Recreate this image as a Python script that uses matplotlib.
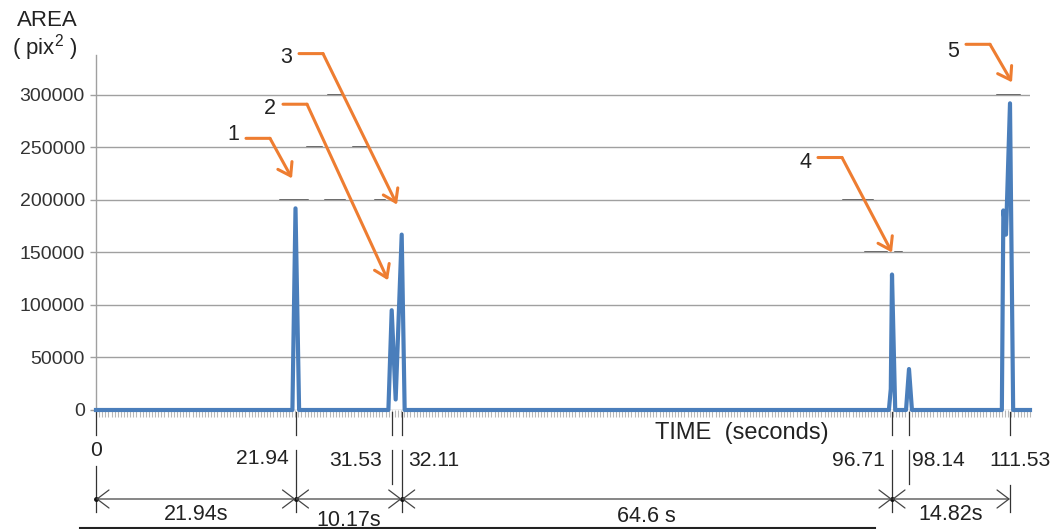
import numpy as np
import matplotlib
matplotlib.use("Agg")
import matplotlib.pyplot as plt
import matplotlib.transforms as mtransforms
from matplotlib.lines import Line2D

# blob area over time
time_s = [0, 21.6, 21.94, 22.3, 31.2, 31.53, 31.76, 32.11, 32.5,
          96.3, 96.55, 96.71, 96.98, 97.89, 98.14, 98.53,
          110.45, 110.65, 111.0, 111.53, 111.92, 114.0]
area_px2 = [0, 0, 192000, 0, 0, 95000, 10000, 167000, 0,
            0, 20000, 129000, 0, 0, 39000, 0,
            0, 190000, 167000, 292000, 0, 0]

ytick_values = [0, 50000, 100000, 150000, 200000, 250000, 300000]

event_times = [0, 21.94, 31.53, 32.11, 96.71, 98.14, 111.53]
event_labels = ["0", "21.94", "31.53", "32.11", "96.71", "98.14", "111.53"]

interval_edges = [0, 21.94, 32.11, 96.71, 111.53]
interval_labels = ["21.94s", "10.17s", "64.6 s", "14.82s"]

callout_times = [21.94, 31.53, 32.11, 96.71, 111.53]
callout_labels = ["1", "2", "3", "4", "5"]

W, H = 1057, 529
BLUE = "#4a7ebb"
ORANGE = "#ee7d31"
GRID = "#a0a0a0"
TXT = "#222222"

plt.rcParams["font.family"] = ["Liberation Sans", "DejaVu Sans"]
plt.rcParams["mathtext.fontset"] = "custom"
plt.rcParams["mathtext.rm"] = "Liberation Sans"

# the original is an Excel category axis with uneven sampling,
# so the time axis is stretched piecewise to match it
knot_t = np.array([-1000, 0, 21.94, 31.53, 32.11, 96.71, 98.14, 111.53, 114.0, 1000])
knot_px = np.array([-8994, 96, 295.5, 391.7, 401.7, 892, 909, 1010, 1030, 8200])


def fwd(t):
    return np.interp(t, knot_t, knot_px)


def inv(p):
    return np.interp(p, knot_px, knot_t)


fig = plt.figure(figsize=(W / 100, H / 100), dpi=100)
ax = fig.add_axes([96 / W, 1 - 410 / H, (1030 - 96) / W, (410 - 55) / H])
ax.set_xscale("function", functions=(fwd, inv))
ax.set_xlim(0, 114.0)
ax.set_ylim(0, 338000)

# top-left pixel coordinates, like the reference image
pix = mtransforms.Affine2D().scale(1 / W, -1 / H).translate(0, 1) + fig.transFigure
tx = mtransforms.blended_transform_factory(ax.transData, pix)

# dense sample ticks under the axis (one per frame)
ax2 = ax.twiny()
ax2.set_xlim(0, 300)
ax2.xaxis.set_ticks_position("bottom")
ax2.set_xticks(np.arange(0, 301))
ax2.tick_params(axis="x", length=5, width=0.8, color="#b8b8b8",
                labelbottom=False, labeltop=False, top=False)
for s in ax2.spines.values():
    s.set_visible(False)
ax2.set_zorder(1)
ax.set_zorder(2)
ax.patch.set_visible(False)

ax.plot(time_s, area_px2, color=BLUE, lw=3, clip_on=False, zorder=3)

ax.set_yticks(ytick_values)
ax.set_yticklabels([str(v) for v in ytick_values])
ax.yaxis.grid(True, color=GRID, lw=1.0)
ax.set_axisbelow(True)
ax.set_xticks([])
ax.tick_params(axis="x", bottom=False, labelbottom=False)
ax.tick_params(axis="y", labelsize=14, labelcolor="#333333", color=GRID,
               length=4, width=1, pad=4)
for side in ["top", "right", "bottom"]:
    ax.spines[side].set_visible(False)
ax.spines["left"].set_color(GRID)
ax.spines["left"].set_linewidth(1)

# dark marks left on some gridlines in the original
dark_dashes = [(280, 308, 200), (325, 345, 200), (375, 385, 200),
               (307, 322, 147), (353, 367, 147), (328, 343, 95),
               (843, 873, 200), (865, 887, 252), (895, 902, 252), (997, 1020, 95)]
for x0, x1, y in dark_dashes:
    fig.add_artist(Line2D([x0, x1], [y, y], transform=pix, color="#333333", lw=1.1))

# axis titles
fig.text(47, 20, "AREA", transform=pix, fontsize=16, color=TXT, ha="center", va="center")
fig.text(45, 48, "( pix$^{2}$ )", transform=pix, fontsize=16, color=TXT,
         ha="center", va="center")
fig.text(742, 433, "TIME  (seconds)", transform=pix, fontsize=17, color=TXT,
         ha="center", va="center")

# event markers below the axis
lower_seg = {"0": (466, 512), "31.53": (450, 484), "98.14": (450, 484), "111.53": (485, 512)}
label_place = {"0": ("center", 0, 450), "21.94": ("right", -7, 458),
               "31.53": ("right", -10, 460), "32.11": ("left", 6, 460),
               "96.71": ("right", -7, 460), "98.14": ("left", 3, 460),
               "111.53": ("center", 10, 460)}
for t, lab in zip(event_times, event_labels):
    ax.plot([t, t], [412, 435], transform=tx, color="#333333", lw=0.9, clip_on=False)
    y0, y1 = lower_seg.get(lab, (450, 512))
    ax.plot([t, t], [y0, y1], transform=tx, color="#333333", lw=0.9, clip_on=False)
    ha, dx, y = label_place[lab]
    ax.annotate(lab, xy=(t, y), xycoords=tx, xytext=(dx, 0), textcoords="offset pixels",
                ha=ha, va="center", fontsize=15.2, color=TXT, annotation_clip=False)

# interval dimension line
label_y = [515, 520, 517, 515]
for t0, t1, lab, ly in zip(interval_edges[:-1], interval_edges[1:], interval_labels, label_y):
    ax.annotate("", xy=(t1, 499), xycoords=tx, xytext=(t0, 499), textcoords=tx,
                arrowprops=dict(arrowstyle="<->,head_length=0.86,head_width=0.65",
                                color="#444444", lw=0.9, shrinkA=0, shrinkB=0),
                annotation_clip=False)
    tm = inv((fwd(t0) + fwd(t1)) / 2)
    ax.text(tm, ly, lab, transform=tx, ha="center", va="center", fontsize=15.5,
            color=TXT, clip_on=False)
ax.plot(interval_edges[:-1], [499] * (len(interval_edges) - 1), "o", ms=2.5,
        color="#111111", transform=tx, clip_on=False)

fig.add_artist(Line2D([80, 875], [528, 528], transform=pix, color="#222222", lw=1.5))

# numbered orange callouts pointing at the peaks
peak_value = dict(zip(time_s, area_px2))
tip_off = [(-3.5, 30), (-3.7, 30), (-4.7, 30), (0, 22), (2, 21)]
knee_off = [(-22, 40), (-81, 176), (-74, 151), (-50, 95), (-22, 38)]
label_dy = [4, -4, -4, -5, -7]
for t, lab, (tdx, tdy), (kdx, kdy), ldy in zip(callout_times, callout_labels,
                                               tip_off, knee_off, label_dy):
    v = peak_value[t]
    tip_tr = mtransforms.offset_copy(ax.transData, fig=fig, x=tdx, y=tdy, units="dots")
    knee_tr = mtransforms.offset_copy(ax.transData, fig=fig, x=tdx + kdx, y=tdy + kdy,
                                      units="dots")
    ax.annotate("", xy=(t, v), xycoords=tip_tr, xytext=(kdx, kdy),
                textcoords="offset pixels",
                arrowprops=dict(arrowstyle="->,head_length=0.86,head_width=0.58",
                                color=ORANGE, lw=2.2, shrinkA=0, shrinkB=0,
                                capstyle="round", joinstyle="round"),
                annotation_clip=False)
    ax.annotate("", xy=(t, v), xycoords=knee_tr, xytext=(-24, 0),
                textcoords="offset pixels",
                arrowprops=dict(arrowstyle="-", color=ORANGE, lw=2.2, shrinkA=0,
                                shrinkB=0, capstyle="round"),
                annotation_clip=False)
    ax.annotate(lab, xy=(t, v), xycoords=knee_tr, xytext=(-37, ldy),
                textcoords="offset pixels", ha="center", va="center",
                fontsize=15.5, color=TXT, annotation_clip=False)

fig.savefig("out.png", dpi=100, facecolor="white")
